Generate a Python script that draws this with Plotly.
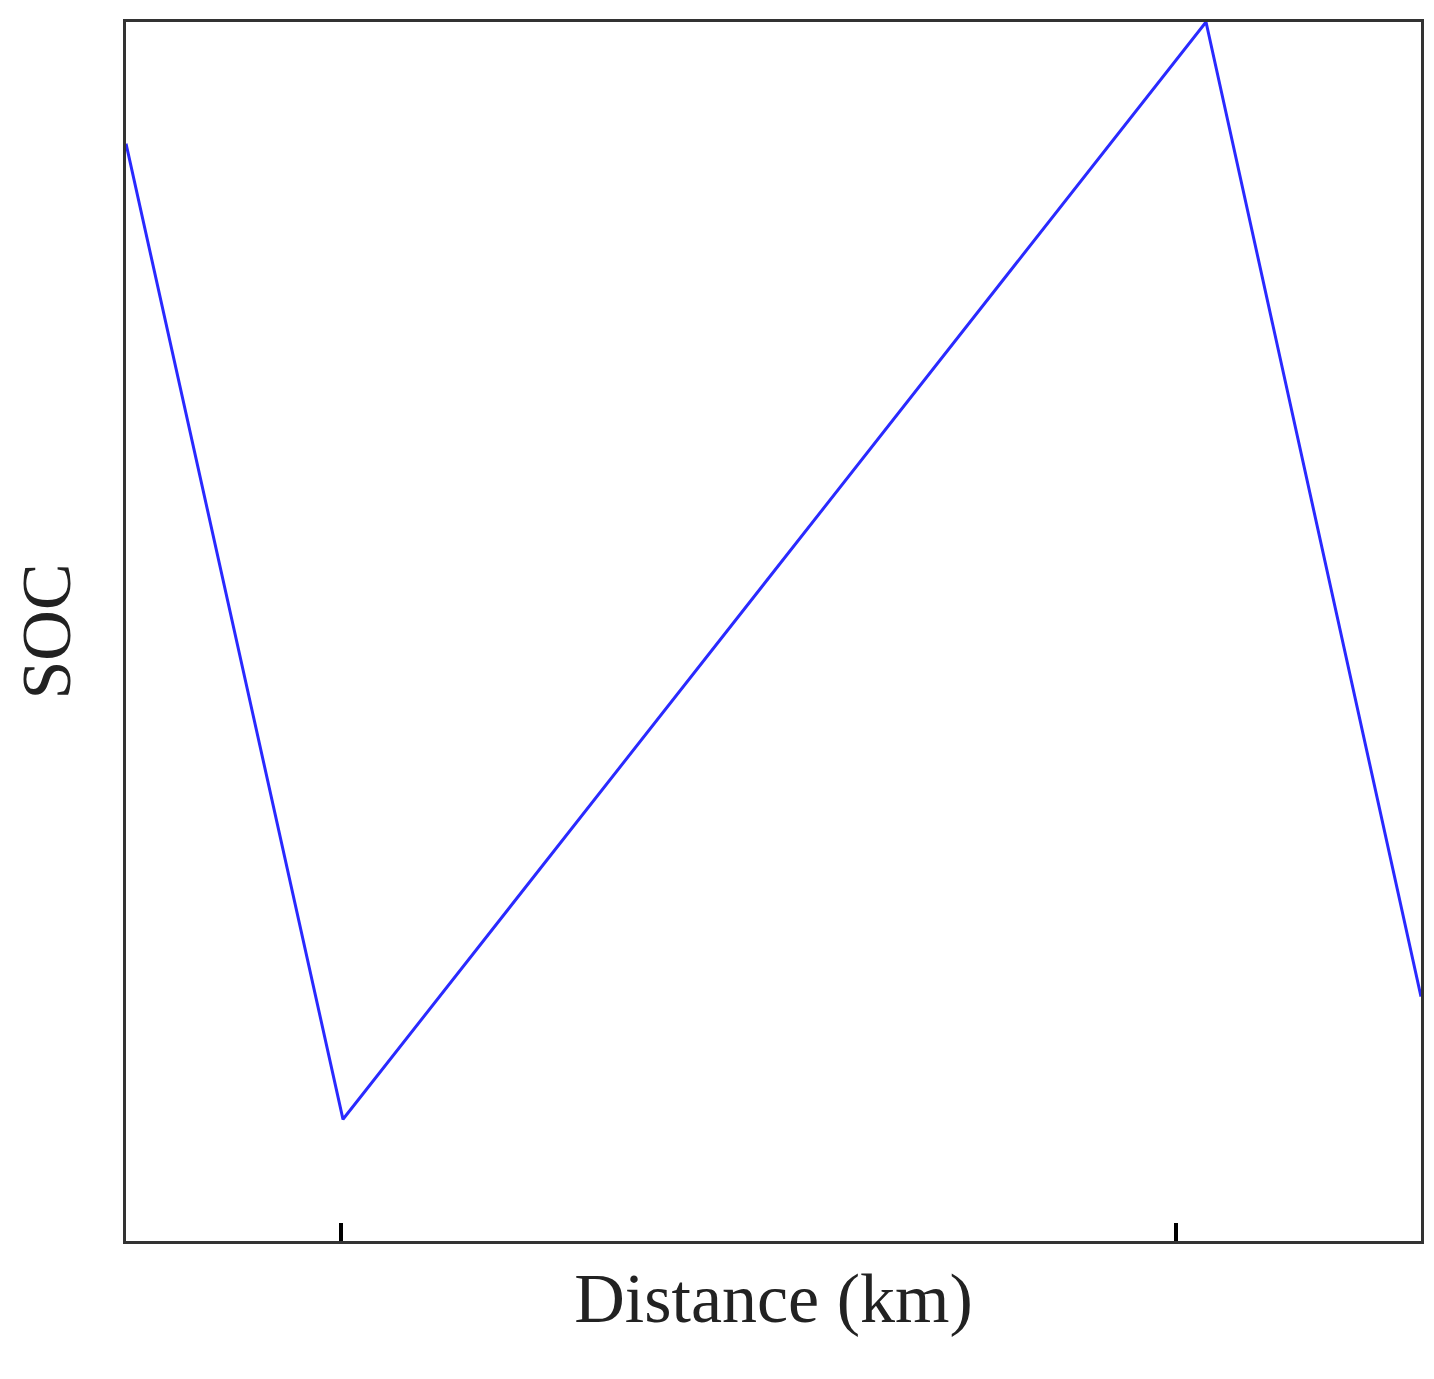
import plotly.graph_objects as go

distance = [0, 217, 1080, 1295]
soc = [1100, 122, 1222, 245]
tick_positions = [215, 1050]

fig = go.Figure(go.Scatter(x=distance, y=soc, mode="lines",
                           line=dict(color="#2a2aff", width=3)))

fig.update_xaxes(range=[0, 1295], tickvals=tick_positions, ticktext=["", ""],
                 ticks="inside", ticklen=18, tickwidth=4, tickcolor="black",
                 showline=True, mirror=True, linecolor="#333", linewidth=2.5,
                 showgrid=False, zeroline=False,
                 title=dict(text="Distance (km)", standoff=28,
                            font=dict(family="Liberation Serif", size=70, color="#222")))
fig.update_yaxes(range=[0, 1222], showticklabels=False, ticks="",
                 showline=True, mirror=True, linecolor="#333", linewidth=2.5,
                 showgrid=False, zeroline=False,
                 title=dict(text="SOC", standoff=38,
                            font=dict(family="Liberation Serif", size=70, color="#222")))
fig.update_layout(width=1434, height=1379, plot_bgcolor="white", paper_bgcolor="white",
                  margin=dict(l=118, r=21, t=11, b=146), showlegend=False)
fig.write_html("out.html")
